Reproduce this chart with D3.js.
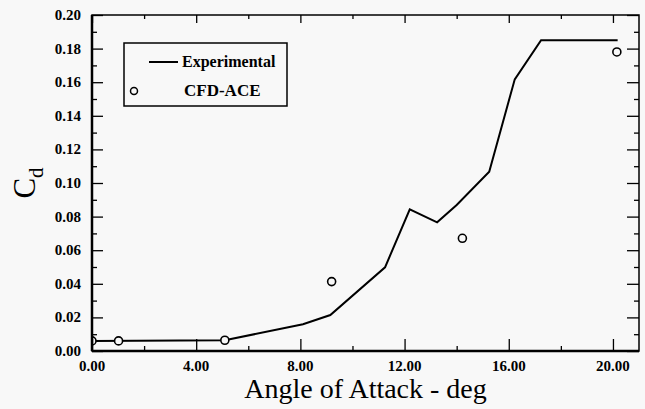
<!DOCTYPE html>
<html>
<head>
<meta charset="utf-8">
<script src="https://cdn.jsdelivr.net/npm/d3@7"></script>
<style>
  body { margin: 0; background: #f8f8f8; }
  svg { display: block; }
</style>
</head>
<body>
<svg width="645" height="409"></svg>
<script>
// Experimental curve (angle in deg, Cd)
const expAngle = [0, 5.1, 8.1, 9.15, 11.25, 12.2, 13.25, 14.0, 15.25, 16.23, 17.24, 20.18];
const expCd    = [0.006, 0.0064, 0.0159, 0.0214, 0.0498, 0.0843, 0.0766, 0.0869, 0.1067, 0.1617, 0.185, 0.185];

// CFD-ACE points
const cfdAngle = [0, 1.02, 5.1, 9.2, 14.22, 20.15];
const cfdCd    = [0.006, 0.006, 0.0064, 0.0413, 0.0671, 0.178];

const xTicks = [0, 4, 8, 12, 16, 20];
const yTicks = [0, 0.02, 0.04, 0.06, 0.08, 0.10, 0.12, 0.14, 0.16, 0.18, 0.20];

const serif = "'Liberation Serif', 'Times New Roman', Times, serif";

const margin = {top: 15, right: 6, bottom: 58, left: 92};
const width = 645 - margin.left - margin.right;
const height = 409 - margin.top - margin.bottom;

const svg = d3.select("svg");
const g = svg.append("g")
    .attr("transform", "translate(" + margin.left + "," + margin.top + ")");

const x = d3.scaleLinear().domain([0, 21]).range([0, width]);
const y = d3.scaleLinear().domain([0, 0.2]).range([height, 0]);

g.append("clipPath").attr("id", "clip")
  .append("rect").attr("width", width).attr("height", height);

const plot = g.append("g").attr("clip-path", "url(#clip)");

const expData = expAngle.map((a, i) => [a, expCd[i]]);
plot.append("path")
    .datum(expData)
    .attr("fill", "none")
    .attr("stroke", "#000")
    .attr("stroke-width", 2)
    .attr("d", d3.line().x(d => x(d[0])).y(d => y(d[1])));

plot.selectAll("circle")
    .data(cfdAngle.map((a, i) => [a, cfdCd[i]]))
    .enter()
    .append("circle")
    .attr("cx", d => x(d[0]))
    .attr("cy", d => y(d[1]))
    .attr("r", 4)
    .attr("fill", "#f8f8f8")
    .attr("stroke", "#000")
    .attr("stroke-width", 1.6);

// frame ticks, all pointing inward
const xMinor = d3.range(2, 21, 4);
const yMinor = d3.range(0.01, 0.2, 0.02);

g.append("g")
    .attr("transform", "translate(0," + height + ")")
    .call(d3.axisTop(x).tickValues(xTicks).tickSize(12).tickFormat(""))
    .call(a => a.select(".domain").remove());
g.append("g")
    .attr("transform", "translate(0," + height + ")")
    .call(d3.axisTop(x).tickValues(xMinor).tickSize(5).tickFormat(""))
    .call(a => a.select(".domain").remove());
g.append("g")
    .call(d3.axisBottom(x).tickValues(xTicks).tickSize(8).tickFormat(""))
    .call(a => a.select(".domain").remove());
g.append("g")
    .call(d3.axisBottom(x).tickValues(xMinor).tickSize(4).tickFormat(""))
    .call(a => a.select(".domain").remove());

g.append("g")
    .call(d3.axisRight(y).tickValues(yTicks).tickSize(11).tickFormat(""))
    .call(a => a.select(".domain").remove());
g.append("g")
    .call(d3.axisRight(y).tickValues(yMinor).tickSize(5).tickFormat(""))
    .call(a => a.select(".domain").remove());
g.append("g")
    .attr("transform", "translate(" + width + ",0)")
    .call(d3.axisLeft(y).tickValues(yTicks).tickSize(12).tickFormat(""))
    .call(a => a.select(".domain").remove());
g.append("g")
    .attr("transform", "translate(" + width + ",0)")
    .call(d3.axisLeft(y).tickValues(yMinor).tickSize(5).tickFormat(""))
    .call(a => a.select(".domain").remove());

g.selectAll(".tick line").attr("stroke", "#000").attr("stroke-width", 1.3);

// frame
g.append("rect")
    .attr("width", width).attr("height", height)
    .attr("fill", "none").attr("stroke", "#000").attr("stroke-width", 1.5);
g.append("line").attr("x1", 0).attr("x2", width).attr("y1", height).attr("y2", height)
    .attr("stroke", "#000").attr("stroke-width", 2.5);
g.append("line").attr("x1", 0).attr("x2", 0).attr("y1", 0).attr("y2", height)
    .attr("stroke", "#000").attr("stroke-width", 2.5);

// tick labels
g.selectAll(".xlab")
    .data(xTicks)
    .enter()
    .append("text")
    .attr("x", d => x(d))
    .attr("y", height + 20)
    .attr("text-anchor", "middle")
    .style("font-family", serif)
    .style("font-size", "15px")
    .style("font-weight", "bold")
    .text(d => d3.format(".2f")(d));

g.selectAll(".ylab")
    .data(yTicks)
    .enter()
    .append("text")
    .attr("x", -11)
    .attr("y", d => y(d) + 5)
    .attr("text-anchor", "end")
    .style("font-family", serif)
    .style("font-size", "15px")
    .style("font-weight", "bold")
    .text(d => d3.format(".2f")(d));

// axis titles
svg.append("text")
    .attr("x", margin.left + width / 2)
    .attr("y", 398)
    .attr("text-anchor", "middle")
    .style("font-family", serif)
    .style("font-size", "28px")
    .text("Angle of Attack - deg");

const yt = svg.append("text")
    .attr("transform", "translate(35," + (margin.top + height / 2) + ") rotate(-90)")
    .attr("text-anchor", "middle")
    .style("font-family", serif)
    .style("font-size", "31px");
yt.append("tspan").text("C");
yt.append("tspan").attr("dy", 8).style("font-size", "21px").text("d");

// legend
const leg = svg.append("g");
leg.append("rect")
    .attr("x", 124).attr("y", 43).attr("width", 163).attr("height", 63)
    .attr("fill", "#f8f8f8").attr("stroke", "#000").attr("stroke-width", 1.5);
leg.append("line")
    .attr("x1", 149).attr("x2", 178).attr("y1", 62).attr("y2", 62)
    .attr("stroke", "#000").attr("stroke-width", 2);
leg.append("text").attr("x", 182).attr("y", 67)
    .style("font-family", serif)
    .style("font-size", "16px").style("font-weight", "bold").text("Experimental");
leg.append("circle").attr("cx", 134).attr("cy", 91).attr("r", 3.5)
    .attr("fill", "#f8f8f8").attr("stroke", "#000").attr("stroke-width", 1.5);
leg.append("text").attr("x", 184).attr("y", 96)
    .style("font-family", serif)
    .style("font-size", "17px").style("font-weight", "bold").text("CFD-ACE");
</script>
</body>
</html>
